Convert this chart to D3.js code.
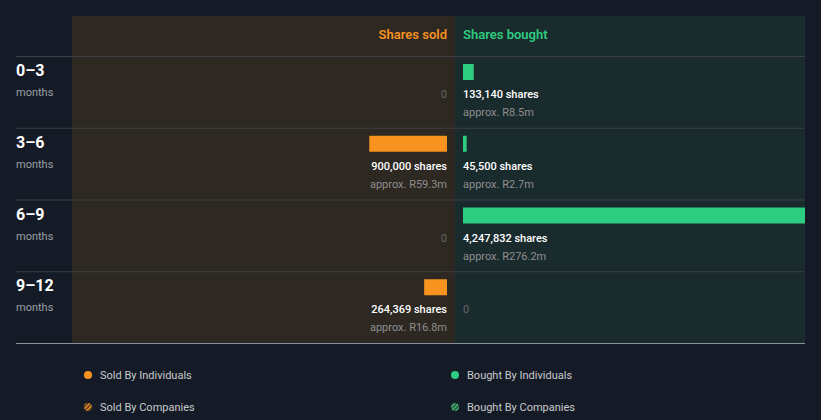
<!DOCTYPE html>
<html><head><meta charset="utf-8">
<script src="https://cdn.jsdelivr.net/npm/d3@7/dist/d3.min.js"></script>
<style>
html,body{margin:0;padding:0;background:#151b26;}
svg{display:block;font-family:Roboto,"Open Sans",sans-serif;}
</style></head>
<body><svg id="c" width="821" height="420"></svg>
<script>
const periods = ["0\u20133", "3\u20136", "6\u20139", "9\u201312"];
const soldShares = [0, 900000, 0, 264369];
const soldValue = [null, "R59.3m", null, "R16.8m"];
const boughtShares = [133140, 45500, 4247832, 0];
const boughtValue = ["R8.5m", "R2.7m", "R276.2m", null];
const legendItems = ["Sold By Individuals", "Bought By Individuals", "Sold By Companies", "Bought By Companies"];

(function(){
const ORANGE = "#f7931e", GREEN = "#2ecc80";
const svg = d3.select("#c");
const defs = svg.append("defs");
[["hatchO", ORANGE], ["hatchG", GREEN]].forEach(([id, col]) => {
  const p = defs.append("pattern").attr("id", id).attr("patternUnits", "userSpaceOnUse")
    .attr("width", 3).attr("height", 3).attr("patternTransform", "rotate(45)");
  p.append("rect").attr("width", 3).attr("height", 3).attr("fill", "#3a3020");
  p.append("rect").attr("width", 1.5).attr("height", 3).attr("fill", col);
});

const pLeft = 72, pMid = 455, pRight = 805, pTop = 16, headerH = 40, pBottom = 343;
const y = d3.scaleBand().domain(periods).range([pTop + headerH, pBottom]).padding(0);
const maxV = d3.max(soldShares.concat(boughtShares));
const xs = d3.scaleLinear().domain([0, maxV]).range([0, (pMid - 8) - (pLeft + 8)]);
const xb = d3.scaleLinear().domain([0, maxV]).range([0, pRight - (pMid + 8)]);

svg.append("rect").attr("x", pLeft).attr("y", pTop).attr("width", pMid - pLeft).attr("height", pBottom - pTop).attr("fill", "#2d2822");
svg.append("rect").attr("x", pMid).attr("y", pTop).attr("width", pRight - pMid).attr("height", pBottom - pTop).attr("fill", "#1a2b2e");

svg.append("text").attr("x", pMid - 8).attr("y", 39).attr("text-anchor", "end")
  .attr("fill", ORANGE).attr("font-size", 13).attr("font-weight", 600).text("Shares sold");
svg.append("text").attr("x", pMid + 8).attr("y", 39)
  .attr("fill", GREEN).attr("font-size", 13).attr("font-weight", 600).text("Shares bought");

const fmt = d3.format(",");
periods.forEach((p, i) => {
  const y0 = y(p);
  svg.append("line").attr("x1", 16).attr("x2", pRight).attr("y1", y0 + 0.5).attr("y2", y0 + 0.5)
    .attr("stroke", "#3b3f45").attr("stroke-width", 1);
  svg.append("text").attr("x", 16).attr("y", y0 + 20).attr("fill", "#ffffff")
    .attr("font-size", 16).attr("font-weight", 700).text(p);
  svg.append("text").attr("x", 16).attr("y", y0 + 40).attr("fill", "#9aa0a6")
    .attr("font-size", 11).text("months");

  const s = soldShares[i];
  if (s > 0) {
    svg.append("rect").attr("x", pMid - 8 - xs(s)).attr("y", y0 + 8).attr("width", xs(s)).attr("height", 16).attr("fill", ORANGE);
    svg.append("text").attr("x", pMid - 8).attr("y", y0 + 42).attr("text-anchor", "end")
      .attr("fill", "#ffffff").attr("font-size", 11).attr("font-weight", 500).text(fmt(s) + " shares");
    svg.append("text").attr("x", pMid - 8).attr("y", y0 + 60).attr("text-anchor", "end")
      .attr("fill", "#8e8e8e").attr("font-size", 11).text("approx. " + soldValue[i]);
  } else {
    svg.append("text").attr("x", pMid - 8).attr("y", y0 + 42).attr("text-anchor", "end")
      .attr("fill", "#666666").attr("font-size", 11).text("0");
  }
  const b = boughtShares[i];
  if (b > 0) {
    svg.append("rect").attr("x", pMid + 8).attr("y", y0 + 8).attr("width", Math.max(xb(b), 3)).attr("height", 16).attr("fill", GREEN);
    svg.append("text").attr("x", pMid + 8).attr("y", y0 + 42)
      .attr("fill", "#ffffff").attr("font-size", 11).attr("font-weight", 500).text(fmt(b) + " shares");
    svg.append("text").attr("x", pMid + 8).attr("y", y0 + 60)
      .attr("fill", "#8e8e8e").attr("font-size", 11).text("approx. " + boughtValue[i]);
  } else {
    svg.append("text").attr("x", pMid + 8).attr("y", y0 + 42)
      .attr("fill", "#666666").attr("font-size", 11).text("0");
  }
});
svg.append("line").attr("x1", 16).attr("x2", pRight).attr("y1", pBottom + 0.5).attr("y2", pBottom + 0.5)
  .attr("stroke", "#8a9099").attr("stroke-width", 1);

const lg = [
  {t: legendItems[0], x: 88, y: 375, fill: ORANGE},
  {t: legendItems[1], x: 455, y: 375, fill: GREEN},
  {t: legendItems[2], x: 88, y: 407, fill: "url(#hatchO)"},
  {t: legendItems[3], x: 455, y: 407, fill: "url(#hatchG)"}
];
lg.forEach(d => {
  svg.append("circle").attr("cx", d.x).attr("cy", d.y).attr("r", 4).attr("fill", d.fill);
  svg.append("text").attr("x", d.x + 12).attr("y", d.y + 4).attr("fill", "#c8cacd")
    .attr("font-size", 11).text(d.t);
});
})();
</script></body></html>
